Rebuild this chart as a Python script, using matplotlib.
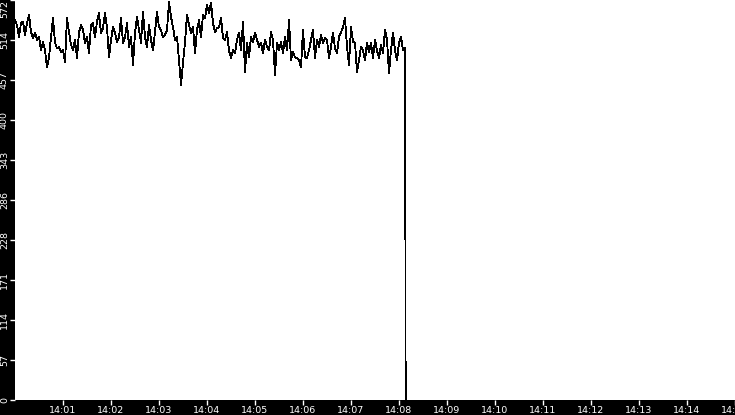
import numpy as np
import pandas as pd
import matplotlib
matplotlib.use("Agg")
import matplotlib.pyplot as plt
import matplotlib.dates as mdates

# samples every 2.5 s starting at 14:00:00
start = "2024-01-01 14:00:00"
step = "2500ms"

values = [
    543, 536, 519, 539, 541, 522, 539, 551, 526, 518, 525, 515, 519, 500, 512, 500, 476, 490, 519, 546,
    511, 503, 505, 498, 500, 483, 546, 526, 508, 500, 515, 489, 526, 536, 529, 511, 519, 496, 536,
    539, 519, 541, 553, 525, 532, 553, 533, 490, 515, 533, 525, 512, 519, 546, 511, 519, 539, 505, 519,
    479, 525, 548, 529, 511, 555, 519, 505, 536, 515, 500, 526, 555, 533, 529, 519, 522, 529, 569,
    548, 533, 515, 519, 486, 450, 482, 511, 551, 536, 525, 533, 496, 529, 543, 519, 551, 546, 565, 553,
    568, 539, 526, 532, 533, 546, 518, 515, 526, 500, 489, 500, 496, 515, 525, 500, 541, 469, 511,
    490, 519, 512, 525, 515, 505, 511, 496, 515, 505, 500, 526, 515, 465, 511, 500, 512, 496, 519, 500,
    543, 486, 498, 490, 489, 486, 476, 529, 490, 489, 500, 515, 529, 489, 515, 505, 522, 511, 518,
    515, 489, 505, 525, 503, 496, 519, 526, 533, 546, 505, 479, 533, 512, 511, 469, 486, 505, 500, 486,
    511, 498, 511, 489, 515, 500, 489, 508, 496, 529, 515, 468, 500, 525, 500, 486, 511, 519, 500, 503,
]
# the feed drops out right after the last sample
tail_times = ["2024-01-01 14:08:08.0", "2024-01-01 14:08:08.3"]
tail_values = [246, 0]

ytick_values = np.linspace(0, 572, 11)
ytick_labels = ["0", "57", "114", "171", "228", "286", "343", "400", "457", "514", "572"]

times = pd.date_range(start, periods=len(values), freq=step)
times = times.append(pd.to_datetime(tail_times))
series = pd.Series(values + tail_values, index=times)

fig = plt.figure(figsize=(7.35, 4.15), dpi=100, facecolor="black")
ax = fig.add_axes([15 / 735, 15 / 415, 720 / 735, 400 / 415])
ax.set_facecolor("white")

ax.plot(series.index, series.values, color="black", lw=0.6, antialiased=False)

ax.set_xlim(pd.Timestamp("2024-01-01 14:00:00"), pd.Timestamp("2024-01-01 14:15:00"))
ax.set_ylim(0, 572)

ax.xaxis.set_major_locator(mdates.MinuteLocator(byminute=range(1, 16)))
ax.xaxis.set_major_formatter(mdates.DateFormatter("%H:%M"))
ax.set_yticks(ytick_values)
ax.set_yticklabels(ytick_labels, rotation=90, va="center")
ax.get_yticklabels()[-1].set_va("top")

ax.tick_params(colors="white", labelcolor="white", labelsize=6.8, length=3.6, width=1)
ax.tick_params(axis="x", pad=0.8)
ax.tick_params(axis="y", pad=0.8)
for s in ax.spines.values():
    s.set_visible(False)

fig.savefig("out.png", dpi=100, facecolor="black")
